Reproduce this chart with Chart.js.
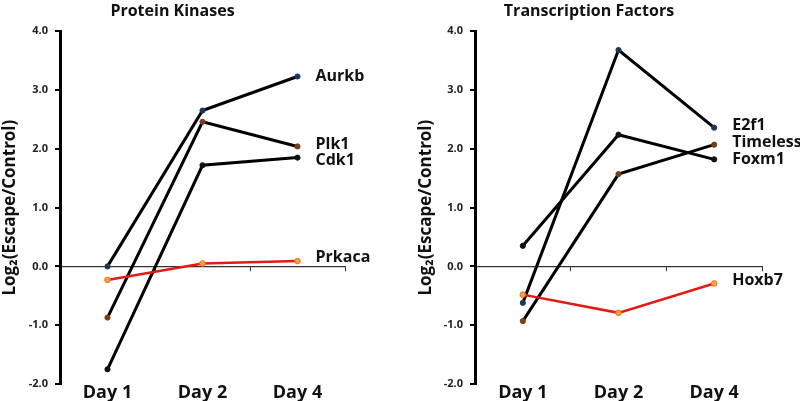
<!DOCTYPE html>
<html>
<head>
<meta charset="utf-8">
<script src="https://cdn.jsdelivr.net/npm/chart.js@4.4.1/dist/chart.umd.min.js"></script>
<style>
  html, body { margin: 0; padding: 0; background: #fff; }
  .panel { position: absolute; top: 0; width: 400px; height: 401px; }
  #left { left: 0; }
  #right { left: 400px; }
</style>
</head>
<body>
<div class="panel" id="left"><canvas id="kinaseChart" width="400" height="401"></canvas></div>
<div class="panel" id="right"><canvas id="tfChart" width="400" height="401"></canvas></div>
<script>
// dados
const days = ['Day 1', 'Day 2', 'Day 4'];
const yMin = -2;
const yMax = 4;

// Protein Kinases
const aurkb = [0.0, 2.65, 3.23];
const plk1 = [-0.87, 2.46, 2.04];
const cdk1 = [-1.75, 1.72, 1.85];
const prkaca = [-0.23, 0.05, 0.09];

// Transcription Factors
const e2f1 = [-0.62, 3.68, 2.36];
const foxm1 = [0.35, 2.24, 1.82];
const timeless = [-0.93, 1.57, 2.07];
const hoxb7 = [-0.48, -0.79, -0.29];

const FONT = "'Open Sans', 'DejaVu Sans', sans-serif";

function blackLine(label, data, dot, dy) {
  return {
    label: label, data: data,
    borderColor: '#000', borderWidth: 3,
    pointRadius: 2.6, pointBackgroundColor: dot, pointBorderColor: dot, pointBorderWidth: 1,
    labelDy: dy
  };
}

function redLine(label, data, dy) {
  return {
    label: label, data: data,
    borderColor: '#e31b14', borderWidth: 2.5,
    pointRadius: 2.8, pointBackgroundColor: '#f6a634', pointBorderColor: '#ef6b1e', pointBorderWidth: 1,
    labelDy: dy, order: -1
  };
}

// escreve o nome de cada serie ao lado do ultimo ponto
const endLabels = {
  id: 'endLabels',
  afterDatasetsDraw(chart) {
    const ctx = chart.ctx;
    ctx.save();
    ctx.font = "bold 16px " + FONT;
    ctx.fillStyle = '#111';
    ctx.textBaseline = 'middle';
    ctx.textAlign = 'left';
    chart.data.datasets.forEach((ds, i) => {
      const meta = chart.getDatasetMeta(i);
      const last = meta.data[meta.data.length - 1];
      ctx.fillText(ds.label, last.x + 18, last.y + (ds.labelDy || 0));
    });
    ctx.restore();
  }
};

function makeChart(id, title, datasets, yWidth, padLeft, padRight) {
  return new Chart(document.getElementById(id), {
    type: 'line',
    data: { labels: days, datasets: datasets },
    options: {
      responsive: false,
      animation: false,
      layout: { padding: { left: padLeft, right: padRight, top: 0, bottom: 0 } },
      plugins: {
        legend: { display: false },
        tooltip: { enabled: false },
        title: {
          display: true,
          text: title,
          color: '#111',
          font: { family: FONT, size: 16, weight: 'bold' },
          padding: { top: 2, bottom: 10 }
        }
      },
      scales: {
        x: {
          type: 'category',
          offset: true,
          grid: { display: false },
          border: { display: false },
          ticks: { color: '#111', padding: -10, font: { family: FONT, size: 18, weight: 'bold' } },
          afterFit: s => { s.height = 17; }
        },
        x2: {
          type: 'category',
          labels: days,
          offset: true,
          position: { y: 0 },
          grid: { display: true, drawOnChartArea: false, offset: true, tickLength: 4, color: '#333', lineWidth: 1 },
          border: { display: true, color: '#333', width: 1.2 },
          ticks: { display: false }
        },
        y: {
          min: yMin,
          max: yMax,
          grid: { display: true, drawOnChartArea: false, tickLength: 5, color: '#000', lineWidth: 2 },
          border: { display: true, color: '#000', width: 3 },
          ticks: {
            stepSize: 1, padding: 7, color: '#222',
            font: { family: FONT, size: 11, weight: 'bold' },
            callback: v => Number(v).toFixed(1)
          },
          title: {
            display: true,
            text: 'Log₂(Escape/Control)',
            color: '#111',
            padding: 0,
            font: { family: FONT, size: 17, weight: 'bold' }
          },
          afterFit: s => { s.width = yWidth; }
        }
      }
    },
    plugins: [endLabels]
  });
}

makeChart('kinaseChart', 'Protein Kinases', [
  blackLine('Aurkb', aurkb, '#1d3557', 0),
  blackLine('Plk1', plk1, '#7a3d16', -2),
  blackLine('Cdk1', cdk1, '#111', 3),
  redLine('Prkaca', prkaca, -4)
], 60, 0, 55);

makeChart('tfChart', 'Transcription Factors', [
  blackLine('E2f1', e2f1, '#1d3557', -2),
  blackLine('Timeless', timeless, '#7a3d16', -2),
  blackLine('Foxm1', foxm1, '#111', 0),
  redLine('Hoxb7', hoxb7, -3)
], 59, 16, 38);
</script>
</body>
</html>
